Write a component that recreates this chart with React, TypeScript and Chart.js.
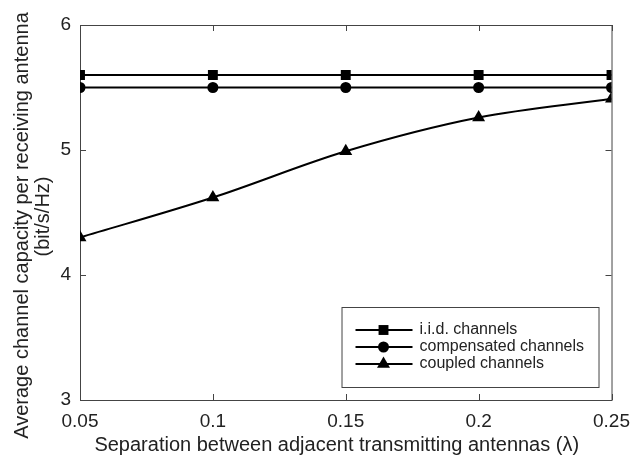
import React, { useEffect, useRef } from "react";
import { Chart, registerables } from "chart.js";

Chart.register(...registerables);

const xValues = [0.05, 0.1, 0.15, 0.2, 0.25];
const iidCapacity = [5.6, 5.6, 5.6, 5.6, 5.6];
const compensatedCapacity = [5.5, 5.5, 5.5, 5.5, 5.5];
const coupledCapacity = [4.3, 4.62, 4.99, 5.26, 5.41];
const seriesLabels = ["i.i.d. channels", "compensated channels", "coupled channels"];
const xTickValues = [0.05, 0.1, 0.15, 0.2, 0.25];
const xTickLabels = ["0.05", "0.1", "0.15", "0.2", "0.25"];
const yTickValues = [3, 4, 5, 6];
const xTitle = "Separation between adjacent transmitting antennas (\u03bb)";
const yTitle = ["Average channel capacity per receiving antenna", "(bit/s/Hz)"];

const FONT = "'Liberation Sans', Arial, Helvetica, sans-serif";
const AXIS_COLOR = "#444";
const TEXT_COLOR = "#222";

function drawMarker(ctx: CanvasRenderingContext2D, style: string, x: number, y: number, r: number) {
  ctx.beginPath();
  if (style === "rect") {
    const s = r * Math.SQRT1_2;
    ctx.rect(x - s, y - s, 2 * s, 2 * s);
  } else if (style === "circle") {
    ctx.arc(x, y, r, 0, Math.PI * 2);
  } else {
    const a = r;
    ctx.moveTo(x, y - a);
    ctx.lineTo(x + a * Math.sin(Math.PI / 3), y + a * 0.5);
    ctx.lineTo(x - a * Math.sin(Math.PI / 3), y + a * 0.5);
    ctx.closePath();
  }
  ctx.fill();
}

const framePlugin = {
  id: "frame",
  beforeDatasetsDraw(chart: any) {
    const { ctx, chartArea } = chart;
    const xs = chart.scales.x;
    const ys = chart.scales.y;
    ctx.save();
    ctx.strokeStyle = AXIS_COLOR;
    ctx.lineWidth = 1;
    ctx.strokeRect(chartArea.left + 0.5, chartArea.top + 0.5, chartArea.right - chartArea.left, chartArea.bottom - chartArea.top);
    const len = 6;
    ctx.beginPath();
    xTickValues.forEach((v) => {
      const px = Math.round(xs.getPixelForValue(v)) + 0.5;
      ctx.moveTo(px, chartArea.bottom);
      ctx.lineTo(px, chartArea.bottom - len);
      ctx.moveTo(px, chartArea.top);
      ctx.lineTo(px, chartArea.top + len);
    });
    yTickValues.forEach((v) => {
      const py = Math.round(ys.getPixelForValue(v)) + 0.5;
      ctx.moveTo(chartArea.left, py);
      ctx.lineTo(chartArea.left + len, py);
      ctx.moveTo(chartArea.right, py);
      ctx.lineTo(chartArea.right - len, py);
    });
    ctx.stroke();
    ctx.restore();
  },
};

const titlePlugin = {
  id: "axisTitles",
  afterDraw(chart: any) {
    const { ctx, chartArea } = chart;
    const cx = (chartArea.left + chartArea.right) / 2;
    const cy = (chartArea.top + chartArea.bottom) / 2;
    ctx.save();
    ctx.fillStyle = TEXT_COLOR;
    ctx.font = `20px ${FONT}`;
    ctx.textAlign = "center";
    ctx.textBaseline = "middle";
    ctx.fillText(xTitle, cx - 9, chart.height - 12);
    ctx.translate(0, cy);
    ctx.rotate(-Math.PI / 2);
    ctx.fillText(yTitle[0], -13, 22);
    ctx.fillText(yTitle[1], -4, 43);
    ctx.restore();
  },
};

const legendPlugin = {
  id: "boxLegend",
  afterDatasetsDraw(chart: any) {
    const { ctx, chartArea } = chart;
    const w = 257;
    const h = 80;
    const x0 = chartArea.right - 13 - w;
    const y0 = chartArea.bottom - 13 - h;
    ctx.save();
    ctx.fillStyle = "#fff";
    ctx.fillRect(x0, y0, w, h);
    ctx.strokeStyle = AXIS_COLOR;
    ctx.lineWidth = 1;
    ctx.strokeRect(x0 + 0.5, y0 + 0.5, w, h);
    chart.data.datasets.forEach((ds: any, i: number) => {
      const ry = y0 + 23 + i * 17;
      ctx.strokeStyle = "#000";
      ctx.lineWidth = 2;
      ctx.beginPath();
      ctx.moveTo(x0 + 14, ry);
      ctx.lineTo(x0 + 71, ry);
      ctx.stroke();
      ctx.fillStyle = "#000";
      drawMarker(ctx, ds.pointStyle, x0 + 42, ry, ds.pointRadius);
      ctx.fillStyle = TEXT_COLOR;
      ctx.font = `16px ${FONT}`;
      ctx.textBaseline = "middle";
      ctx.textAlign = "left";
      ctx.fillText(ds.label, x0 + 78, ry);
    });
    ctx.restore();
  },
};

export default function App() {
  const ref = useRef<HTMLCanvasElement>(null);
  useEffect(() => {
    if (!ref.current) return;
    const mk = (label: string, values: number[], style: string, r: number, curve: boolean) => ({
      label,
      data: xValues.map((x, i) => ({ x, y: values[i] })),
      borderColor: "#000",
      backgroundColor: "#000",
      borderWidth: 2,
      pointStyle: style,
      pointRadius: r,
      pointBorderWidth: 0,
      pointBackgroundColor: "#000",
      tension: curve ? 0.4 : 0,
      cubicInterpolationMode: curve ? "monotone" : "default",
    });
    const chart = new Chart(ref.current, {
      type: "line",
      data: {
        datasets: [
          mk(seriesLabels[0], iidCapacity, "rect", 7, false),
          mk(seriesLabels[1], compensatedCapacity, "circle", 5.5, false),
          mk(seriesLabels[2], coupledCapacity, "triangle", 7.5, true),
        ] as any,
      },
      options: {
        animation: false,
        responsive: false,
        layout: { padding: { top: 25, right: 27, left: 0, bottom: 0 } },
        plugins: { legend: { display: false }, tooltip: { enabled: false } },
        scales: {
          x: {
            type: "linear",
            min: 0.05,
            max: 0.25,
            afterBuildTicks: (s: any) => {
              s.ticks = xTickValues.map((v) => ({ value: v }));
            },
            afterFit: (s: any) => {
              s.height = 57;
            },
            ticks: {
              callback: (v: any, i: number) => xTickLabels[i],
              font: { family: FONT, size: 19 },
              color: TEXT_COLOR,
              padding: 10,
              maxRotation: 0,
            },
            grid: { display: false, drawTicks: false },
            border: { display: true, color: AXIS_COLOR },
            title: { display: false },
          },
          y: {
            type: "linear",
            min: 3,
            max: 6,
            afterBuildTicks: (s: any) => {
              s.ticks = yTickValues.map((v) => ({ value: v }));
            },
            afterFit: (s: any) => {
              s.width = 80;
            },
            ticks: {
              font: { family: FONT, size: 19 },
              color: TEXT_COLOR,
              padding: 9,
            },
            grid: { display: false, drawTicks: false },
            border: { display: true, color: AXIS_COLOR },
            title: { display: false },
          },
        },
      },
      plugins: [framePlugin, legendPlugin, titlePlugin],
    });
    return () => chart.destroy();
  }, []);
  return (
    <div style={{ position: "absolute", left: 0, top: 0, width: 640, height: 457, background: "#fff" }}>
      <canvas ref={ref} width={640} height={457} />
    </div>
  );
}
